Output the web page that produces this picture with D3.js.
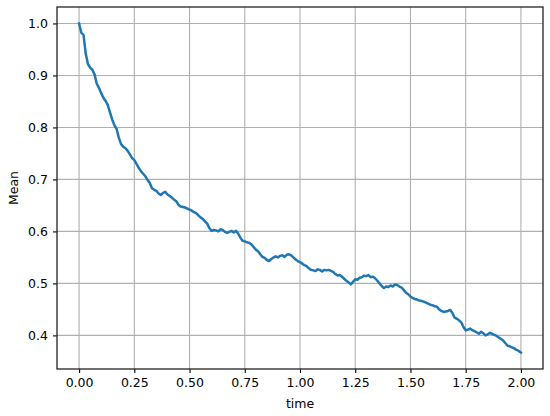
<!DOCTYPE html>
<html>
<head>
<meta charset="utf-8">
<script src="https://cdn.jsdelivr.net/npm/d3@7"></script>
<style>
  body { margin: 0; background: #fff; }
  .chart text { font-family: "DejaVu Sans", sans-serif; fill: #000; }
  .tick text { font-size: 12.5px; }
  .axisText { font-size: 12.5px; }
</style>
</head>
<body>
<div class="chart"></div>
<script>
// time grid (step 0.01) and mean values
var times = d3.range(0, 201).map(i => i / 100);
var meanValues = [
  1.000, 0.982, 0.978, 0.942, 0.922, 0.915, 0.911, 0.902, 0.884, 0.876,
  0.866, 0.857, 0.851, 0.843, 0.829, 0.815, 0.804, 0.797, 0.780, 0.768,
  0.763, 0.760, 0.755, 0.748, 0.741, 0.737, 0.730, 0.722, 0.716, 0.711,
  0.706, 0.699, 0.693, 0.683, 0.680, 0.678, 0.673, 0.670, 0.674, 0.676,
  0.671, 0.668, 0.665, 0.661, 0.658, 0.651, 0.648, 0.647, 0.646, 0.644,
  0.642, 0.640, 0.637, 0.635, 0.631, 0.627, 0.624, 0.619, 0.615, 0.606,
  0.601, 0.603, 0.602, 0.600, 0.604, 0.603, 0.599, 0.597, 0.599, 0.601,
  0.598, 0.601, 0.596, 0.588, 0.582, 0.581, 0.579, 0.578, 0.575, 0.570,
  0.565, 0.562, 0.556, 0.551, 0.549, 0.545, 0.543, 0.547, 0.550, 0.552,
  0.550, 0.553, 0.554, 0.551, 0.555, 0.556, 0.554, 0.550, 0.546, 0.543,
  0.541, 0.538, 0.535, 0.533, 0.529, 0.526, 0.525, 0.524, 0.527, 0.526,
  0.523, 0.526, 0.525, 0.526, 0.524, 0.522, 0.518, 0.515, 0.516, 0.513,
  0.509, 0.505, 0.502, 0.498, 0.503, 0.508, 0.507, 0.511, 0.512, 0.515,
  0.514, 0.516, 0.512, 0.513, 0.510, 0.505, 0.500, 0.495, 0.491, 0.494,
  0.493, 0.496, 0.494, 0.498, 0.497, 0.494, 0.492, 0.487, 0.482, 0.479,
  0.475, 0.472, 0.470, 0.469, 0.467, 0.466, 0.465, 0.463, 0.461, 0.459,
  0.458, 0.456, 0.455, 0.450, 0.447, 0.445, 0.446, 0.447, 0.449, 0.443,
  0.434, 0.432, 0.429, 0.425, 0.416, 0.410, 0.411, 0.413, 0.410, 0.408,
  0.406, 0.403, 0.407, 0.404, 0.400, 0.402, 0.405, 0.403, 0.401, 0.399,
  0.396, 0.393, 0.390, 0.385, 0.380, 0.379, 0.377, 0.375, 0.372, 0.370,
  0.367
];
var xTicks = [0, 0.25, 0.5, 0.75, 1.0, 1.25, 1.5, 1.75, 2.0];
var yTicks = [0.4, 0.5, 0.6, 0.7, 0.8, 0.9, 1.0];

var svgWidth = 550;
var svgHeight = 416;

var margin = {
  top: 7,
  right: 7,
  bottom: 47,
  left: 57
};

var width = svgWidth - margin.left - margin.right;
var height = svgHeight - margin.top - margin.bottom;

var svg = d3.select(".chart")
  .append("svg")
  .attr("width", svgWidth)
  .attr("height", svgHeight);

var chartGroup = svg.append("g")
  .attr("transform", `translate(${margin.left}, ${margin.top})`);

var data = times.map((t, i) => ({ time: t, mean: meanValues[i] }));

// matplotlib style 5% padding
var xMin = d3.min(times), xMax = d3.max(times);
var yMin = d3.min(meanValues), yMax = d3.max(meanValues);
var xPad = (xMax - xMin) * 0.05;
var yPad = (yMax - yMin) * 0.05;

var xLinearScale = d3.scaleLinear()
  .domain([xMin - xPad, xMax + xPad])
  .range([0, width]);

var yLinearScale = d3.scaleLinear()
  .domain([yMin - yPad, yMax + yPad])
  .range([height, 0]);

// grid
chartGroup.append("g")
  .selectAll("line")
  .data(xTicks)
  .enter()
  .append("line")
  .attr("x1", d => xLinearScale(d))
  .attr("x2", d => xLinearScale(d))
  .attr("y1", 0)
  .attr("y2", height)
  .attr("stroke", "#b0b0b0")
  .attr("stroke-width", 1.1);

chartGroup.append("g")
  .selectAll("line")
  .data(yTicks)
  .enter()
  .append("line")
  .attr("x1", 0)
  .attr("x2", width)
  .attr("y1", d => yLinearScale(d))
  .attr("y2", d => yLinearScale(d))
  .attr("stroke", "#b0b0b0")
  .attr("stroke-width", 1.1);

// line
var line = d3.line()
  .x(d => xLinearScale(d.time))
  .y(d => yLinearScale(d.mean));

chartGroup.append("path")
  .datum(data)
  .attr("fill", "none")
  .attr("stroke", "#1f77b4")
  .attr("stroke-width", 2.5)
  .attr("stroke-linejoin", "round")
  .attr("stroke-linecap", "square")
  .attr("d", line);

// axes
var bottomAxis = d3.axisBottom(xLinearScale)
  .tickValues(xTicks)
  .tickFormat(d3.format(".2f"))
  .tickSizeInner(4)
  .tickSizeOuter(0)
  .tickPadding(5);

var leftAxis = d3.axisLeft(yLinearScale)
  .tickValues(yTicks)
  .tickFormat(d3.format(".1f"))
  .tickSizeInner(4)
  .tickSizeOuter(0)
  .tickPadding(5);

var xAxisG = chartGroup.append("g")
  .attr("transform", `translate(0, ${height})`)
  .call(bottomAxis);

var yAxisG = chartGroup.append("g")
  .call(leftAxis);

[xAxisG, yAxisG].forEach(g => {
  g.select(".domain").remove();
  g.selectAll(".tick line").attr("stroke", "#000").attr("stroke-width", 1.1);
  g.selectAll(".tick text").attr("font-family", null).attr("font-size", null);
});

// frame
chartGroup.append("rect")
  .attr("x", 0)
  .attr("y", 0)
  .attr("width", width)
  .attr("height", height)
  .attr("fill", "none")
  .attr("stroke", "#222")
  .attr("stroke-width", 1.3);

// axis labels
chartGroup.append("text")
  .attr("transform", "rotate(-90)")
  .attr("y", -margin.left + 18)
  .attr("x", -(height / 2))
  .attr("text-anchor", "middle")
  .attr("class", "axisText")
  .text("Mean");

chartGroup.append("text")
  .attr("transform", `translate(${width / 2}, ${height + 39})`)
  .attr("text-anchor", "middle")
  .attr("class", "axisText")
  .text("time");
</script>
</body>
</html>
